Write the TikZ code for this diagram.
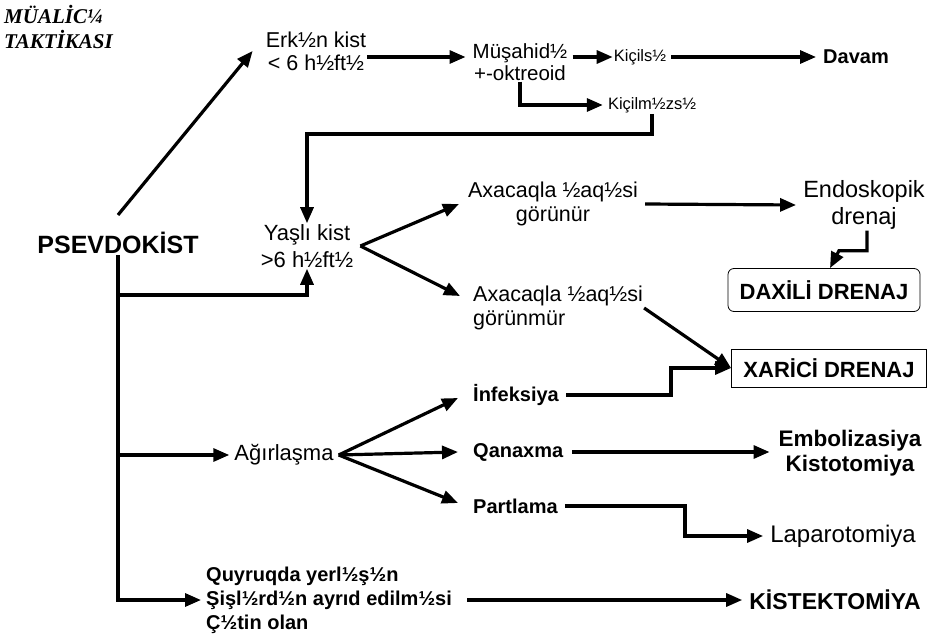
\documentclass[tikz,border=0pt]{standalone}
\usepackage{fontspec}
\setmainfont{Liberation Sans}
\newfontfamily\titlefont{Liberation Serif}
\usetikzlibrary{arrows.meta, positioning, calc}

\begin{document}
\begin{tikzpicture}[
  x=1pt, y=-1pt,
  txt/.style={align=center, inner sep=1pt, font=\fontsize{20.5}{22}\selectfont},
  lbig/.style={align=center, inner sep=1pt, font=\fontsize{22}{27}\selectfont},
  sml/.style={inner sep=1pt, font=\fontsize{16.5}{18}\selectfont},
  bld/.style={align=center, inner sep=1pt, font=\fontsize{20}{24}\selectfont\bfseries},
  ttl/.style={align=left, inner sep=0pt, font=\fontsize{21}{25}\selectfont\titlefont\bfseries\itshape},
  resbox/.style={draw, line width=0.8pt, inner sep=2pt, font=\fontsize{22}{26}\selectfont\bfseries},
  arr/.style={-{Triangle[length=16pt,width=13pt]}, line width=3.2pt},
  ln/.style={line width=3.2pt},
]
  \useasboundingbox (0,0) rectangle (928,644);

  % nodes
  \node[ttl, anchor=north west] (title) at (4,5) {MÜALİC¼\\TAKTİKASI};
  \node[bld, font=\fontsize{25}{30}\selectfont\bfseries] (psev) at (118,243) {PSEVDOKİST};
  \node[txt, font=\fontsize{21.5}{23}\selectfont] (erk) at (316,51) {Erk½n kist\\< 6 h½ft½};
  \node[txt] (mus)   at (520,62)  {Müşahid½\\+-oktreoid};
  \node[sml] (kic)   at (640,57)  {Kiçils½};
  \node[bld] (davam) at (856,57)  {Davam};
  \node[sml] (kicm)  at (652,105) {Kiçilm½zs½};
  \node[lbig] (yasli) at (307,246) {Yaşlı kist\\>6 h½ft½};
  \node[txt, font=\fontsize{21.5}{24}\selectfont] (axa1) at (553,204) {Axacaqla ½aq½si\\görünür};
  \node[txt, font=\fontsize{21.5}{24}\selectfont, align=left, anchor=west] (axa2) at (472,308) {Axacaqla ½aq½si\\görünmür};
  \node[lbig, font=\fontsize{23.5}{27}\selectfont] (endo) at (864,205) {Endoskopik\\drenaj};
  \node[resbox, rounded corners=6pt, minimum width=192pt, minimum height=43pt] (daxili) at (824,290) {DAXİLİ DRENAJ};
  \node[resbox, minimum width=195pt, minimum height=38pt] (xarici) at (829,368) {XARİCİ DRENAJ};
  \node[bld, anchor=west] (infek) at (472,395) {İnfeksiya};
  \node[bld, anchor=west] (qan)   at (472,452) {Qanaxma};
  \node[bld, anchor=west] (part)  at (472,506) {Partlama};
  \node[lbig] (agir) at (284,455) {Ağırlaşma};
  \node[bld, font=\fontsize{22.5}{25}\selectfont\bfseries] (embo) at (850,453) {Embolizasiya\\Kistotomiya};
  \node[inner sep=1pt, font=\fontsize{24}{28}\selectfont] (lapa) at (843,536) {Laparotomiya};
  \node[bld, align=left, anchor=west] (quy) at (205,600) {Quyruqda yerl½ş½n\\Şişl½rd½n ayrıd edilm½si\\Ç½tin olan};
  \node[bld, font=\fontsize{23}{27}\selectfont\bfseries] (kiste) at (835,600) {KİSTEKTOMİYA};

  % connectors
  \draw[arr] ($(psev.north)+(0,-16)$) -- ([xshift=-12pt]erk.west);
  \draw[arr] (erk.east |- kic.west) -- ([xshift=-6pt]mus.west |- kic.west);
  \draw[arr] ([xshift=4pt]mus.east |- kic.west) -- (kic.west);
  \draw[arr] ([xshift=4pt]kic.east) -- ([xshift=-6pt]davam.west);
  \draw[arr] (mus.south) |- ([xshift=-4pt]kicm.west);
  \draw[arr] (kicm.south) -- ++(0,20) -| (yasli.north);
  \draw[arr] ([xshift=6pt]yasli.east) -- ([xshift=-8pt]axa1.west);
  \draw[arr] ([xshift=6pt]yasli.east) -- ([xshift=-12pt,yshift=12pt]axa2.west);
  \draw[arr] ([xshift=6pt]axa1.east) -- ([xshift=-6pt]endo.west);
  \draw[arr] ([xshift=3pt]endo.south) -- ++(0,20) -- ++(-28,0) -- ([xshift=6pt]daxili.north);
  \draw[arr] (axa2.east) -- (xarici.west);
  \draw[arr] ([xshift=6pt]infek.east) -- ++(105,0) |- (xarici.west);
  \draw[ln]  (psev.south) -- (psev.south |- quy.west);
  \draw[arr] ([yshift=-40pt]psev.south) -| (yasli.south);
  \draw[arr] (psev.south |- agir.west) -- ([xshift=-4pt]agir.west);
  \draw[arr] ($(psev.south |- quy.west)+(-1.6,0)$) -- ([xshift=-4pt]quy.west);
  \draw[arr] ([xshift=4pt]agir.east) -- ([xshift=-14pt,yshift=-3pt]infek.west);
  \draw[arr] ([xshift=4pt]agir.east) -- ([xshift=-14pt]qan.west);
  \draw[arr] ([xshift=4pt]agir.east) -- ([xshift=-14pt,yshift=3pt]part.west);
  \draw[arr] ([xshift=8pt]qan.east) -- ([xshift=-8pt]qan.east -| embo.west);
  \draw[arr] ([xshift=6pt]part.east) -- ++(120,0) |- ([xshift=-6pt]lapa.west);
  \draw[arr] ([xshift=14pt]quy.east) -- ([xshift=-6pt]kiste.west);
\end{tikzpicture}
\end{document}
